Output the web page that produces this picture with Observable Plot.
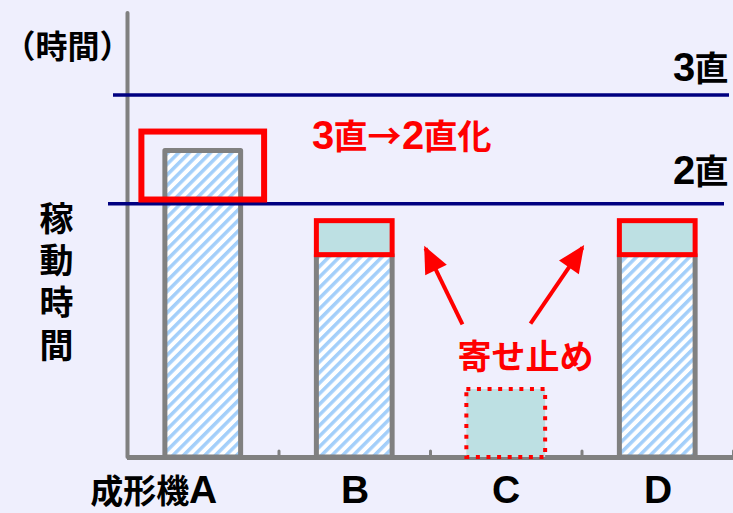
<!DOCTYPE html>
<html><head><meta charset="utf-8">
<script src="https://cdn.jsdelivr.net/npm/d3@7"></script>
<script src="https://cdn.jsdelivr.net/npm/@observablehq/plot@0.6"></script>
<style>
@font-face {
  font-family: "LatinBig";
  src: local("Liberation Sans Bold"), local("LiberationSans-Bold");
  font-weight: 700;
  size-adjust: 118%;
  unicode-range: U+0020-007E;
}
html,body{margin:0;padding:0;background:#efeffd;}
#chart svg{display:block;}
</style></head><body><div id="chart"></div>
<script>
// ---- data ----
const categories = ["A", "B", "C", "D"];
const tickLabels = ["成形機A", "B", "C", "D"];
const runHours = [20.3, 13.4, 0, 13.4];      // hatched bars (after consolidation)
const addedHours = [0, 2.25, 0, 2.25];       // hours moved onto B and D
const stoppedHours = [0, 0, 4.5, 0];         // machine C, stopped
const shiftLevels = [24, 16.8];
const shiftLabels = ["3直", "2直"];
const yLabel = "稼動時間";
const unitLabel = "（時間）";
const noteTop = "3直→2直化";
const noteMove = "寄せ止め";

const rows = categories.map((c, i) => ({
  i, cat: c, label: tickLabels[i],
  run: runHours[i], added: addedHours[i], stopped: stoppedHours[i]
}));
const arrows = [
  {x1: 1.711, y1: 8.81, x2: 1.467, y2: 13.84},
  {x1: 2.160, y1: 8.87, x2: 2.503, y2: 13.90}
];

const FONT = '"LatinBig","Noto Sans CJK JP","Liberation Sans",sans-serif';
const GREY = "#808080", NAVY = "#000080", RED = "#ff0000", CYAN = "#bde0e3";

const svg = Plot.plot({
  width: 733, height: 513,
  marginLeft: 127, marginRight: 0, marginTop: 13, marginBottom: 56,
  x: {domain: [-0.5, 3.5], axis: null},
  y: {domain: [0, 29.4], axis: null},
  style: {fontFamily: FONT, background: "#efeffd"},
  marks: [
    Plot.ruleX([-0.5], {y1: 0, y2: 29.4, stroke: GREY, strokeWidth: 4, strokeLinecap: "round"}),
    Plot.ruleY([0], {stroke: GREY, strokeWidth: 5}),
    Plot.ruleX(rows, {x: d => d.i + 0.5, y1: 0, y2: 0.4, stroke: GREY, strokeWidth: 3, strokeLinecap: "round"}),
    Plot.rectY(rows.filter(d => d.run > 0), {
      x1: d => d.i - 0.25, x2: d => d.i + 0.25, y1: 0, y2: "run",
      fill: "url(#hatch)", stroke: GREY, strokeWidth: 5, strokeLinejoin: "round"
    }),
    Plot.rectY(rows.filter(d => d.added > 0), {
      x1: d => d.i - 0.25, x2: d => d.i + 0.25, y1: "run", y2: d => d.run + d.added,
      fill: CYAN, stroke: RED, strokeWidth: 5
    }),
    Plot.rectY(rows.filter(d => d.stopped > 0), {
      x1: d => d.i - 0.26, x2: d => d.i + 0.26, y1: 0, y2: "stopped",
      fill: CYAN, stroke: RED, strokeWidth: 4, strokeDasharray: "4,6.6"
    }),
    Plot.ruleY([shiftLevels[0]], {stroke: NAVY, strokeWidth: 3.5, insetLeft: -14, insetRight: 4}),
    Plot.ruleY([shiftLevels[1]], {stroke: NAVY, strokeWidth: 3.5, insetLeft: -19, insetRight: 9}),
    Plot.rect([0], {x1: -0.405, x2: 0.405, y1: 17.05, y2: 21.55, fill: "none", stroke: RED, strokeWidth: 6}),
    Plot.link(arrows, {x1: "x1", y1: "y1", x2: "x2", y2: "y2", stroke: RED, strokeWidth: 4}),
    Plot.text([shiftLabels[0]], {x: 3.5, y: shiftLevels[0], dx: -5, dy: -25, text: d => d, textAnchor: "end",
      fontSize: 34, fontWeight: "bold", fill: "black"}),
    Plot.text([shiftLabels[1]], {x: 3.5, y: shiftLevels[1], dx: -5, dy: -31, text: d => d, textAnchor: "end",
      fontSize: 34, fontWeight: "bold", fill: "black"}),
    Plot.text([noteTop], {x: 1.309, y: 21.16, text: d => d, fontSize: 34, fontWeight: "bold", fill: RED}),
    Plot.text([noteMove], {x: 2.127, y: 6.59, text: d => d, fontSize: 34, fontWeight: "bold", fill: RED}),
    Plot.text([unitLabel], {x: -0.5, y: 27.1, dx: -124, text: d => d, textAnchor: "start",
      fontSize: 32, fontWeight: "bold", fill: "black"}),
    Plot.text([yLabel], {x: -0.5, y: 11.7, dx: -71, text: d => d.split("").join("\n"),
      lineHeight: 1.24, fontSize: 34, fontWeight: "bold", fill: "black"}),
    Plot.text(rows, {x: "i", y: 0, text: "label", textAnchor: "end", dx: 14, dy: 35,
      fontSize: 33, fontWeight: "bold", fill: "black"})
  ]
});

const defs = d3.select(svg).insert("defs", ":first-child");
const pat = defs.append("pattern").attr("id", "hatch").attr("patternUnits", "userSpaceOnUse")
  .attr("width", 7.5).attr("height", 7.5).attr("patternTransform", "rotate(45)");
pat.append("rect").attr("width", 7.5).attr("height", 7.5).attr("fill", "#ffffff");
pat.append("rect").attr("width", 3.5).attr("height", 7.5).attr("fill", "#a3cffa");
const mk = defs.append("marker").attr("id", "ahead").attr("markerUnits", "userSpaceOnUse")
  .attr("viewBox", "-30 -20 40 40").attr("markerWidth", 40).attr("markerHeight", 40)
  .attr("refX", 0).attr("refY", 0).attr("orient", "auto");
mk.append("path").attr("d", "M3,0L-24,-12L-24,12Z").attr("fill", RED);
d3.select(svg).selectAll('g[aria-label="link"] path').attr("marker-end", "url(#ahead)");

document.getElementById("chart").appendChild(svg);
</script></body></html>
